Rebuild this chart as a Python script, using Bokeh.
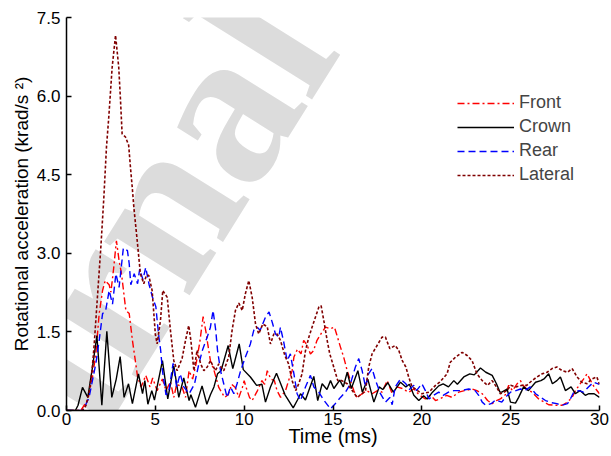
import math
from bokeh.plotting import figure
from bokeh.models import Range1d, FixedTicker, Legend, LegendItem, Label, NumeralTickFormatter
from bokeh.embed import file_html
from bokeh.resources import INLINE

# ---- data (time in ms, rotational acceleration in krad/s^2) ----
front_t = [0, 0.8, 1.0, 1.2, 1.46, 1.65, 1.84, 2.03, 2.18, 2.4, 2.5, 2.65, 2.81, 2.96, 3.1, 3.34, 3.53, 3.71, 3.9, 4.0, 4.2, 4.46, 4.7, 4.85, 5.1, 5.4, 5.6, 5.85, 6.04, 6.2, 6.5, 6.7, 6.9, 7.1, 7.3, 7.5, 7.69, 7.85, 7.95, 8.1, 8.3, 8.57, 8.9, 9.1, 9.3, 9.5, 9.7, 9.9, 10.0, 10.1, 10.3, 10.45, 10.75, 11.0, 11.15, 11.3, 11.5, 11.7, 11.85, 12.05, 12.33, 12.5, 12.7, 12.8, 13.0, 13.2, 13.35, 13.55, 13.73, 13.9, 14.1, 14.39, 14.58, 14.86, 15.08, 15.2, 15.42, 15.6, 15.8, 15.98, 16.17, 16.35, 16.64, 16.9, 17.2, 17.5, 17.76, 18.05, 18.33, 18.6, 18.9, 19.26, 19.55, 19.85, 20.2, 20.5, 20.77, 21.0, 21.4, 21.7, 22.08, 22.4, 22.83, 23.1, 23.4, 23.7, 23.96, 24.2, 24.42, 24.7, 24.89, 25.1, 25.36, 25.55, 25.7, 25.9, 26.2, 26.58, 26.9, 27.14, 27.5, 27.9, 28.2, 28.46, 28.65, 28.85, 29.1, 29.3, 29.5, 29.7, 30]
front_v = [0, 0, 0.1, 0.2, 0.64, 1.08, 1.85, 2.29, 2.48, 2.4, 2.26, 2.7, 3.24, 2.86, 2.6, 1.91, 1.85, 1.34, 0.89, 0.64, 0.45, 0.67, 0.45, 0.62, 0.38, 0.6, 0.38, 0.55, 0.25, 0.5, 0.45, 0.25, 0.76, 0.6, 0.9, 1.3, 1.79, 1.5, 1.27, 0.95, 0.77, 0.44, 0.25, 0.3, 0.5, 0.44, 0.25, 0.44, 0.57, 0.45, 0.25, 0.19, 0.38, 0.57, 0.5, 0.76, 0.6, 0.57, 0.38, 0.25, 0.38, 0.57, 0.76, 1.02, 1.17, 1.08, 1.34, 1.24, 1.08, 1.14, 1.34, 1.5, 1.59, 1.56, 1.59, 1.46, 1.21, 1.02, 0.76, 0.57, 0.38, 0.25, 0.32, 0.38, 0.32, 0.38, 0.35, 0.57, 0.32, 0.45, 0.42, 0.35, 0.41, 0.3, 0.22, 0.29, 0.19, 0.22, 0.29, 0.25, 0.35, 0.38, 0.41, 0.38, 0.32, 0.19, 0.13, 0.19, 0.22, 0.3, 0.48, 0.38, 0.51, 0.57, 0.48, 0.41, 0.35, 0.22, 0.16, 0.11, 0.1, 0.1, 0.16, 0.25, 0.38, 0.48, 0.6, 0.7, 0.57, 0.45, 0.32]

crown_t = [0, 0.5, 0.65, 0.9, 1.2, 1.45, 1.71, 1.99, 2.27, 2.55, 2.8, 3.02, 3.24, 3.49, 3.71, 4.05, 4.28, 4.41, 4.58, 4.8, 4.95, 5.1, 5.4, 5.7, 6.04, 6.32, 6.6, 6.9, 7.0, 7.26, 7.63, 7.9, 8.1, 8.3, 8.5, 8.7, 9.1, 9.36, 9.72, 9.95, 10.35, 10.7, 11.0, 11.2, 11.48, 11.82, 12.0, 12.3, 12.76, 13.0, 13.17, 13.45, 13.92, 14.14, 14.39, 14.66, 14.86, 15.05, 15.38, 15.58, 15.8, 16.03, 16.4, 16.65, 16.96, 17.3, 17.6, 17.8, 18.08, 18.4, 18.8, 19.1, 19.3, 19.55, 19.83, 20.1, 20.3, 20.6, 20.95, 21.2, 21.5, 21.8, 22.0, 22.36, 22.7, 22.95, 23.3, 23.6, 23.96, 24.2, 24.4, 24.5, 24.8, 24.99, 25.27, 25.45, 25.73, 26.0, 26.4, 26.7, 26.9, 27.14, 27.35, 27.6, 27.8, 28.08, 28.4, 28.64, 28.9, 29.2, 29.4, 29.7, 30]
crown_v = [0, 0, 0.1, 0.44, 0.25, 0.8, 1.43, 0.1, 1.51, 0.25, 0.6, 1.03, 0.25, 0.51, 0.13, 0.7, 0.32, 0.57, 0.12, 0.38, 0.2, 0.45, 0.95, 0.22, 0.85, 0.25, 0.62, 0.19, 0.3, 0.06, 0.47, 0.12, 0.3, 0.45, 0.7, 0.76, 1.24, 0.8, 1.27, 0.78, 0.64, 0.48, 0.5, 0.16, 0.45, 0.71, 0.56, 0.3, 0.05, 0.2, 0.32, 0.2, 0.65, 0.19, 0.51, 0.4, 0.57, 0.42, 0.58, 0.45, 0.73, 0.42, 0.76, 0.35, 0.6, 0.16, 0.45, 0.4, 0.53, 0.35, 0.54, 0.45, 0.5, 0.29, 0.19, 0.28, 0.22, 0.35, 0.47, 0.51, 0.45, 0.57, 0.5, 0.64, 0.7, 0.68, 0.81, 0.73, 0.67, 0.51, 0.35, 0.35, 0.41, 0.16, 0.14, 0.25, 0.45, 0.38, 0.54, 0.57, 0.61, 0.7, 0.51, 0.57, 0.64, 0.38, 0.45, 0.32, 0.38, 0.29, 0.32, 0.32, 0.25]

rear_t = [0, 0.9, 1.0, 1.27, 1.65, 1.84, 2.03, 2.2, 2.4, 2.59, 2.78, 2.96, 3.2, 3.43, 3.53, 3.62, 3.81, 4.0, 4.12, 4.3, 4.46, 4.65, 4.84, 5.03, 5.12, 5.2, 5.3, 5.4, 5.6, 5.75, 6.0, 6.2, 6.4, 6.6, 6.9, 7.2, 7.45, 7.65, 7.92, 8.1, 8.25, 8.4, 8.5, 8.67, 8.85, 9.04, 9.23, 9.42, 9.6, 9.8, 10.07, 10.35, 10.54, 10.73, 10.9, 11.2, 11.4, 11.6, 11.76, 11.95, 12.04, 12.23, 12.42, 12.6, 12.8, 12.98, 13.17, 13.45, 13.73, 13.92, 14.2, 14.5, 14.86, 15.1, 15.42, 15.7, 15.98, 16.26, 16.45, 16.64, 16.83, 17.0, 17.2, 17.4, 17.67, 17.95, 18.2, 18.33, 18.5, 18.8, 19.1, 19.3, 19.55, 19.7, 20.0, 20.2, 20.4, 20.67, 20.95, 21.2, 21.5, 21.8, 22.2, 22.64, 23.0, 23.2, 23.4, 23.6, 23.9, 24.15, 24.5, 24.7, 24.99, 25.3, 25.55, 25.8, 26.1, 26.4, 26.7, 26.96, 27.3, 27.6, 27.9, 28.2, 28.36, 28.55, 28.85, 29.1, 29.38, 29.67, 30]
rear_v = [0, 0, 0.05, 0.25, 0.89, 1.34, 1.85, 1.9, 2.29, 2.03, 2.61, 2.35, 3.1, 3.05, 2.8, 2.4, 2.61, 2.42, 2.7, 2.5, 2.73, 2.4, 2.16, 1.98, 1.66, 1.4, 1.15, 0.76, 0.3, 0.35, 0.9, 0.45, 0.7, 0.45, 0.32, 0.5, 0.89, 1.15, 1.4, 1.59, 1.91, 1.53, 1.15, 0.76, 0.51, 0.25, 0.45, 0.32, 0.51, 0.76, 1.02, 1.27, 1.53, 1.59, 1.53, 1.78, 1.88, 1.66, 1.46, 1.4, 1.59, 1.3, 0.95, 1.08, 0.7, 0.32, 0.19, 0.45, 0.67, 0.45, 0.35, 0.19, 0.03, 0.12, 0.25, 0.35, 0.51, 0.83, 0.99, 0.76, 0.45, 0.7, 0.8, 0.57, 0.32, 0.16, 0.25, 0.11, 0.45, 0.6, 0.51, 0.4, 0.48, 0.38, 0.51, 0.38, 0.22, 0.29, 0.35, 0.29, 0.35, 0.38, 0.38, 0.41, 0.38, 0.29, 0.16, 0.1, 0.13, 0.2, 0.16, 0.25, 0.35, 0.38, 0.41, 0.38, 0.45, 0.32, 0.25, 0.19, 0.15, 0.13, 0.1, 0.13, 0.22, 0.35, 0.38, 0.35, 0.45, 0.54, 0.5]

lateral_t = [0, 0.9, 1.1, 1.3, 1.45, 1.56, 1.74, 1.93, 2.1, 2.25, 2.38, 2.57, 2.76, 2.94, 3.04, 3.13, 3.32, 3.5, 3.6, 3.7, 3.79, 3.98, 4.16, 4.35, 4.5, 4.63, 4.82, 5.0, 5.1, 5.29, 5.42, 5.67, 5.85, 6.04, 6.23, 6.51, 6.7, 6.88, 7.0, 7.17, 7.35, 7.55, 7.73, 7.92, 8.1, 8.38, 8.57, 8.85, 9.13, 9.32, 9.51, 9.7, 9.89, 10.07, 10.26, 10.45, 10.64, 10.82, 11.05, 11.3, 11.48, 11.67, 11.86, 12.04, 12.3, 12.5, 12.7, 12.9, 13.07, 13.26, 13.45, 13.64, 13.82, 14.01, 14.2, 14.33, 14.48, 14.67, 14.82, 15.04, 15.27, 15.5, 15.8, 16.08, 16.36, 16.64, 16.83, 17.01, 17.2, 17.48, 17.76, 17.95, 18.2, 18.5, 18.7, 18.9, 19.1, 19.26, 19.45, 19.64, 20.0, 20.4, 20.77, 21.0, 21.42, 21.6, 21.9, 22.27, 22.55, 22.83, 23.1, 23.4, 23.7, 23.96, 24.2, 24.42, 24.8, 25.0, 25.3, 25.64, 25.9, 26.2, 26.48, 26.77, 27.05, 27.33, 27.6, 27.9, 28.2, 28.46, 28.74, 29.0, 29.3, 29.55, 29.85, 30]
lateral_v = [0, 0, 0.1, 0.4, 0.8, 1.27, 2.16, 3.1, 4.05, 5.03, 5.6, 6.55, 7.16, 6.55, 5.92, 5.28, 5.22, 5.06, 4.64, 4.26, 3.88, 3.24, 2.61, 2.42, 2.58, 2.58, 2.29, 1.46, 1.27, 1.72, 2.29, 2.16, 1.53, 0.95, 0.76, 1.0, 1.34, 1.62, 1.34, 0.76, 1.15, 0.89, 0.76, 0.83, 0.95, 0.76, 0.89, 0.76, 1.02, 1.53, 1.91, 2.05, 1.91, 2.23, 2.48, 2.16, 1.65, 1.46, 1.65, 1.6, 1.27, 1.46, 1.46, 1.34, 1.04, 0.89, 0.57, 0.38, 0.51, 0.7, 1.14, 1.4, 1.59, 1.78, 1.97, 2.0, 1.72, 1.34, 1.08, 0.83, 0.57, 0.57, 0.51, 0.38, 0.25, 0.32, 0.38, 0.83, 1.08, 1.24, 1.4, 1.4, 1.18, 1.24, 1.15, 0.95, 0.83, 0.64, 0.45, 0.41, 0.32, 0.35, 0.48, 0.54, 0.7, 0.92, 1.02, 1.11, 1.05, 0.95, 0.7, 0.57, 0.48, 0.57, 0.45, 0.32, 0.38, 0.48, 0.45, 0.48, 0.48, 0.57, 0.64, 0.7, 0.73, 0.8, 0.83, 0.76, 0.73, 0.8, 0.64, 0.54, 0.51, 0.6, 0.64, 0.5]

x_ticks = [0, 5, 10, 15, 20, 25, 30]
y_ticks = [0.0, 1.5, 3.0, 4.5, 6.0, 7.5]
series_names = ["Front", "Crown", "Rear", "Lateral"]
x_title = "Time (ms)"
y_title = "Rotational acceleration (krad/s \u00b2)"
watermark_text = "Journal"

FONT = "Liberation Sans"

p = figure(width=611, height=456, output_backend="svg", toolbar_location=None,
           x_range=Range1d(0, 30), y_range=Range1d(0, 7.5),
           min_border_left=66, min_border_right=12, min_border_top=17, min_border_bottom=46)
p.outline_line_color = None
p.xgrid.visible = False
p.ygrid.visible = False
p.background_fill_color = "white"

# watermark (drawn beneath the data)
wm = Label(x=-9.9, y=-4.27, x_units="data", y_units="data", text=watermark_text,
           angle=math.radians(58), text_font="Liberation Serif", text_font_style="bold",
           text_font_size="220px", text_color="#dcdcdc", text_align="left",
           text_baseline="alphabetic", level="underlay")
p.add_layout(wm)

r_front = p.line(front_t, front_v, line_color="#ff0000", line_width=1.4, line_dash="7 3 2 3")
r_crown = p.line(crown_t, crown_v, line_color="#000000", line_width=1.4)
r_rear = p.line(rear_t, rear_v, line_color="#0000ff", line_width=1.4, line_dash="7 4")
r_lat = p.line(lateral_t, lateral_v, line_color="#800000", line_width=1.6, line_dash="3 2")

for ax in (p.xaxis[0], p.yaxis[0]):
    ax.major_tick_in = 5
    ax.major_tick_out = 0
    ax.minor_tick_line_color = None
    ax.axis_line_width = 1.5
    ax.major_tick_line_width = 1.5
    ax.axis_line_color = "black"
    ax.major_tick_line_color = "black"
    ax.major_label_text_font = FONT
    ax.major_label_text_font_size = "17px"
    ax.major_label_text_color = "black"
    ax.axis_label_text_font = FONT
    ax.axis_label_text_font_size = "19px"
    ax.axis_label_text_font_style = "normal"
    ax.axis_label_text_color = "black"

p.xaxis.ticker = FixedTicker(ticks=x_ticks)
p.yaxis.ticker = FixedTicker(ticks=y_ticks)
p.yaxis.formatter = NumeralTickFormatter(format="0.0")
p.xaxis.axis_label = x_title
p.xaxis.axis_label_text_font_size = "20px"
p.xaxis.major_label_standoff = 2
p.xaxis.axis_label_standoff = -3
p.yaxis.axis_label = y_title
p.yaxis.major_label_standoff = 6
p.yaxis.axis_label_standoff = 2

legend = Legend(items=[LegendItem(label=series_names[0], renderers=[r_front]),
                       LegendItem(label=series_names[1], renderers=[r_crown]),
                       LegendItem(label=series_names[2], renderers=[r_rear]),
                       LegendItem(label=series_names[3], renderers=[r_lat])],
                location=(391, 225), orientation="vertical",
                glyph_width=57, glyph_height=20, label_height=20, spacing=3,
                label_standoff=5, padding=0, margin=0,
                label_text_font=FONT, label_text_font_size="18px",
                border_line_color=None, background_fill_alpha=0)
p.add_layout(legend)

open("out.html", "w").write(file_html(p, INLINE))
